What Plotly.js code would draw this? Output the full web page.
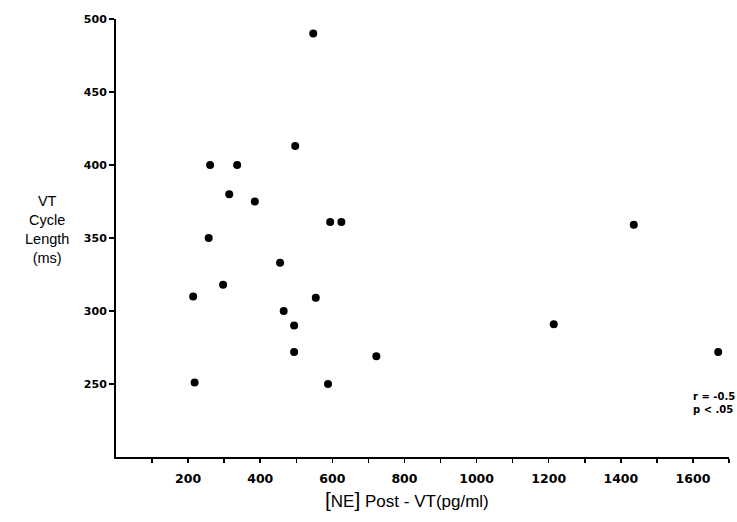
<!DOCTYPE html>
<html>
<head>
<meta charset="utf-8">
<script src="https://cdn.plot.ly/plotly-3.0.1.min.js"></script>
<style>html,body{margin:0;padding:0;background:#fff;}#chart{width:737px;height:522px;}</style>
</head>
<body>
<div id="chart"></div>
<script>
// Data
const nePostVT = [547, 497, 261, 336, 314, 385, 594, 625, 257, 455, 297, 214, 554, 465, 494, 494, 722, 218, 588, 1214, 1436, 1670];
const cycleLength = [490, 413, 400, 400, 380, 375, 361, 361, 350, 333, 318, 310, 309, 300, 290, 272, 269, 251, 250, 291, 359, 272];

const xTickVals = [100, 200, 300, 400, 500, 600, 700, 800, 900, 1000, 1100, 1200, 1300, 1400, 1500, 1600, 1700];
const xTickText = ['', '200', '', '400', '', '600', '', '800', '', '1000', '', '1200', '', '1400', '', '1600', ''];
const yTickVals = [250, 300, 350, 400, 450, 500];
const yTickText = ['250', '300', '350', '400', '450', '500'];

const trace = {
  x: nePostVT,
  y: cycleLength,
  type: 'scatter',
  mode: 'markers',
  marker: {color: '#000', size: 8},
  hoverinfo: 'skip'
};

const layout = {
  width: 737,
  height: 522,
  margin: {l: 116, r: 8, t: 19, b: 65},
  paper_bgcolor: '#fff',
  plot_bgcolor: '#fff',
  showlegend: false,
  xaxis: {
    range: [0, 1700],
    showgrid: false,
    zeroline: false,
    showline: true,
    linecolor: '#000',
    linewidth: 2,
    ticks: 'outside',
    ticklen: 4,
    tickwidth: 1.5,
    tickcolor: '#000',
    tickmode: 'array',
    tickvals: xTickVals,
    ticktext: xTickText,
    tickfont: {family: 'DejaVu Sans', size: 12.5, color: '#000', weight: 'bold'},
    ticklabelstandoff: 5,
    fixedrange: true
  },
  yaxis: {
    range: [200, 500],
    showgrid: false,
    zeroline: false,
    showline: true,
    linecolor: '#000',
    linewidth: 2,
    ticks: 'outside',
    ticklen: 5,
    tickwidth: 1.5,
    tickcolor: '#000',
    tickmode: 'array',
    tickvals: yTickVals,
    ticktext: yTickText,
    tickfont: {family: 'DejaVu Sans', size: 11, color: '#000', weight: 'bold'},
    ticklabelstandoff: 0,
    fixedrange: true
  },
  annotations: [
    {
      xref: 'paper', yref: 'paper',
      x: -0.113, y: 0.52,
      xanchor: 'center', yanchor: 'middle',
      text: 'VT<br>Cycle<br>Length<br>(ms)',
      showarrow: false,
      align: 'center',
      font: {family: 'Liberation Sans, Arial, sans-serif', size: 14.5, color: '#000'}
    },
    {
      xref: 'paper', yref: 'paper',
      x: 0.475, y: -0.098,
      xanchor: 'center', yanchor: 'middle',
      text: '<span style="font-size:21px">[</span>NE<span style="font-size:21px">]</span> Post - VT(pg/ml)',
      showarrow: false,
      font: {family: 'Liberation Sans, Arial, sans-serif', size: 17, color: '#000'}
    },
    {
      xref: 'paper', yref: 'paper',
      x: 1.013, y: 0.123,
      xanchor: 'right', yanchor: 'middle',
      text: 'r = -0.5<br>p < .05',
      showarrow: false,
      align: 'left',
      font: {family: 'DejaVu Sans', size: 10, color: '#000', weight: 'bold'}
    }
  ]
};

Plotly.newPlot('chart', [trace], layout, {staticPlot: true, displayModeBar: false});
</script>
</body>
</html>
